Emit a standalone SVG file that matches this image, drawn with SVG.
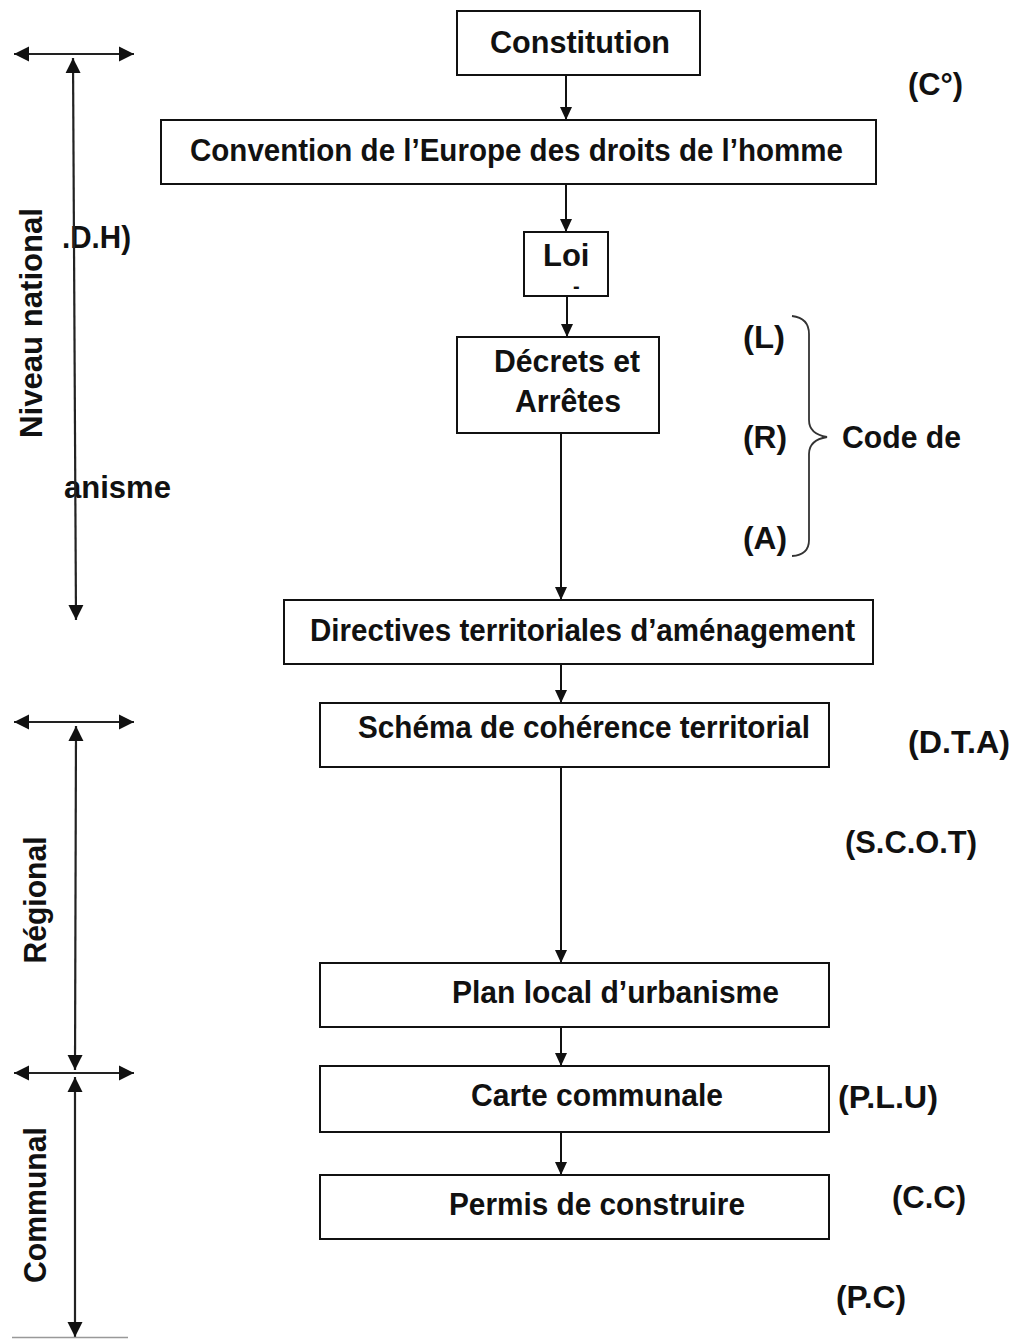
<svg xmlns="http://www.w3.org/2000/svg" width="1017" height="1339" viewBox="0 0 1017 1339">
  <style>
    text { font-family: "Liberation Sans", Arial, sans-serif; font-weight: bold; font-size: 31px; fill: #111; }
    .box { fill: #fff; stroke: #111; stroke-width: 2; }
    .link { fill: none; stroke: #111; stroke-width: 2; }
    .dim { fill: none; stroke: #222; stroke-width: 2.2; }
    .brace { fill: none; stroke: #333; stroke-width: 1.8; }
  </style>
  <defs>
    <marker id="head" markerUnits="userSpaceOnUse" markerWidth="14" markerHeight="14" viewBox="0 0 14 14" refX="13" refY="7" orient="auto">
      <path d="M0,1 L13,7 L0,13 Z" fill="#111"/>
    </marker>
    <marker id="bighead" markerUnits="userSpaceOnUse" markerWidth="16" markerHeight="16" viewBox="0 0 16 16" refX="15" refY="8" orient="auto-start-reverse">
      <path d="M0,0.5 L15,8 L0,15.5 Z" fill="#111"/>
    </marker>
  </defs>

  <rect width="1017" height="1339" fill="#fff"/>

  <!-- hierarchy links -->
  <g id="connectors">
    <line class="link" x1="566" y1="75" x2="566" y2="120" marker-end="url(#head)"/>
    <line class="link" x1="566" y1="184" x2="566" y2="232" marker-end="url(#head)"/>
    <line class="link" x1="567" y1="296" x2="567" y2="337" marker-end="url(#head)"/>
    <line class="link" x1="561" y1="433" x2="561" y2="600" marker-end="url(#head)"/>
    <line class="link" x1="561" y1="664" x2="561" y2="703" marker-end="url(#head)"/>
    <line class="link" x1="561" y1="767" x2="561" y2="963" marker-end="url(#head)"/>
    <line class="link" x1="561" y1="1027" x2="561" y2="1066" marker-end="url(#head)"/>
    <line class="link" x1="561" y1="1132" x2="561" y2="1175" marker-end="url(#head)"/>
  </g>

  <g id="constitution">
    <rect class="box" x="457" y="11" width="243" height="64"/>
    <text x="490" y="53" textLength="180" lengthAdjust="spacingAndGlyphs">Constitution</text>
  </g>
  <g id="convention">
    <rect class="box" x="161" y="120" width="715" height="64"/>
    <text x="190" y="161" textLength="653" lengthAdjust="spacingAndGlyphs">Convention de l’Europe des droits de l’homme</text>
  </g>
  <g id="loi">
    <rect class="box" x="524" y="232" width="84" height="64"/>
    <text><tspan x="543" y="266">Loi</tspan><tspan x="573" y="293" font-size="20">-</tspan></text>
  </g>
  <g id="decrets">
    <rect class="box" x="457" y="337" width="202" height="96"/>
    <text x="494" y="372" textLength="146" lengthAdjust="spacingAndGlyphs">Décrets et</text>
    <text x="515" y="412" textLength="106" lengthAdjust="spacingAndGlyphs">Arrêtes</text>
  </g>
  <g id="directives">
    <rect class="box" x="284" y="600" width="589" height="64"/>
    <text x="310" y="641" textLength="545" lengthAdjust="spacingAndGlyphs">Directives territoriales d’aménagement</text>
  </g>
  <g id="scot">
    <rect class="box" x="320" y="703" width="509" height="64"/>
    <text x="358" y="738" textLength="452" lengthAdjust="spacingAndGlyphs">Schéma de cohérence territorial</text>
  </g>
  <g id="plu">
    <rect class="box" x="320" y="963" width="509" height="64"/>
    <text x="452" y="1003" textLength="327" lengthAdjust="spacingAndGlyphs">Plan local d’urbanisme</text>
  </g>
  <g id="carte">
    <rect class="box" x="320" y="1066" width="509" height="66"/>
    <text x="471" y="1106" textLength="252" lengthAdjust="spacingAndGlyphs">Carte communale</text>
  </g>
  <g id="permis">
    <rect class="box" x="320" y="1175" width="509" height="64"/>
    <text x="449" y="1215" textLength="296" lengthAdjust="spacingAndGlyphs">Permis de construire</text>
  </g>

  <!-- abbreviations on the right -->
  <g id="abbreviations">
    <text x="908" y="95" textLength="55" lengthAdjust="spacingAndGlyphs">(C°)</text>
    <text x="743" y="348" textLength="42" lengthAdjust="spacingAndGlyphs">(L)</text>
    <text x="743" y="448" textLength="44" lengthAdjust="spacingAndGlyphs">(R)</text>
    <text x="743" y="549" textLength="44" lengthAdjust="spacingAndGlyphs">(A)</text>
    <text x="842" y="448" textLength="119" lengthAdjust="spacingAndGlyphs">Code de</text>
    <text x="908" y="753" textLength="102" lengthAdjust="spacingAndGlyphs">(D.T.A)</text>
    <text x="845" y="853" textLength="132" lengthAdjust="spacingAndGlyphs">(S.C.O.T)</text>
    <text x="838" y="1108" textLength="100" lengthAdjust="spacingAndGlyphs">(P.L.U)</text>
    <text x="892" y="1208" textLength="74" lengthAdjust="spacingAndGlyphs">(C.C)</text>
    <text x="836" y="1308" textLength="70" lengthAdjust="spacingAndGlyphs">(P.C)</text>
  </g>
  <g id="code-brace">
    <path class="brace" d="M792,316 Q809,318 809,334 L809,420 Q809,434 827,437 Q809,440 809,454 L809,540 Q809,555 792,556"/>
  </g>

  <!-- fragments on the left -->
  <g id="left-notes">
    <text x="62" y="248" textLength="69" lengthAdjust="spacingAndGlyphs">.D.H)</text>
    <text x="64" y="498" textLength="107" lengthAdjust="spacingAndGlyphs">anisme</text>
  </g>

  <!-- level scales -->
  <g id="levels">
    <line class="dim" x1="14" y1="54" x2="134" y2="54" marker-start="url(#bighead)" marker-end="url(#bighead)"/>
    <line class="dim" x1="73" y1="58" x2="76" y2="620" marker-start="url(#bighead)" marker-end="url(#bighead)"/>
    <line class="dim" x1="14" y1="722" x2="134" y2="722" marker-start="url(#bighead)" marker-end="url(#bighead)"/>
    <line class="dim" x1="76" y1="726" x2="75" y2="1070" marker-start="url(#bighead)" marker-end="url(#bighead)"/>
    <line class="dim" x1="14" y1="1073" x2="134" y2="1073" marker-start="url(#bighead)" marker-end="url(#bighead)"/>
    <line class="dim" x1="75" y1="1077" x2="75" y2="1337" marker-start="url(#bighead)" marker-end="url(#bighead)"/>
    <line x1="12" y1="1337.5" x2="128" y2="1337.5" stroke="#999" stroke-width="1.5"/>
    <text transform="translate(42,323) rotate(-90)" text-anchor="middle" textLength="230" lengthAdjust="spacingAndGlyphs">Niveau  national</text>
    <text transform="translate(46,900) rotate(-90)" text-anchor="middle" textLength="127" lengthAdjust="spacingAndGlyphs">Régional</text>
    <text transform="translate(46,1205) rotate(-90)" text-anchor="middle" textLength="156" lengthAdjust="spacingAndGlyphs">Communal</text>
  </g>
</svg>
